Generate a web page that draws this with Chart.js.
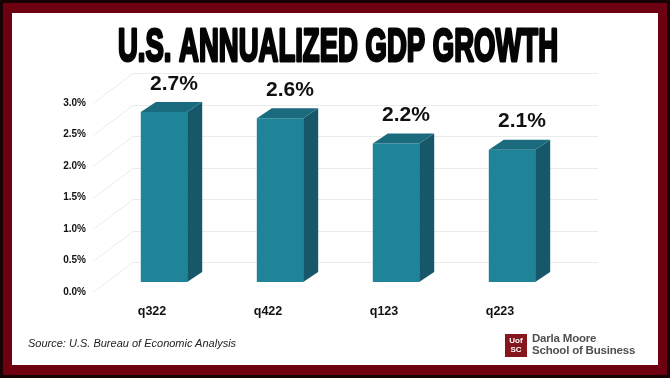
<!DOCTYPE html>
<html>
<head>
<meta charset="utf-8">
<script src="https://cdn.jsdelivr.net/npm/chart.js@4.4.0/dist/chart.umd.min.js"></script>
<style>
  body { margin: 0; background: #fff; }
  #page { position: relative; width: 670px; height: 378px; background: #180304; overflow: hidden; }
  #red { position: absolute; left: 3px; top: 3px; right: 3px; bottom: 3px; background: #6d0011; }
  #white { position: absolute; left: 12px; top: 13px; right: 12px; bottom: 13px; background: #fff; }
  #chart { position: absolute; left: 0; top: 0; }
  .source { position: absolute; left: 28px; top: 336px; font: italic 11px "Liberation Sans", Arial, sans-serif; color: #222; line-height: 14px; }
  .logo-box { position: absolute; left: 505px; top: 334px; width: 22px; height: 23px; background: #86161e;
    color: #fff; font: bold 8px "Liberation Sans Narrow", "Liberation Sans", sans-serif; line-height: 9px; text-align: center; padding-top: 2px; box-sizing: border-box; }
  .logo-text { position: absolute; left: 532px; top: 333px; font: bold 11.5px "Liberation Sans", Arial, sans-serif; color: #505050; line-height: 11.5px; letter-spacing: -0.2px; }
</style>
</head>
<body>
<div id="page">
  <div id="red"></div>
  <div id="white"></div>
  <canvas id="chart" width="670" height="378"></canvas>
  <div class="source">Source: U.S. Bureau of Economic Analysis</div>
  <div class="logo-box">Uof<br>SC</div>
  <div class="logo-text">Darla Moore<br>School of Business</div>
</div>
<script>
  const titleText = "U.S. ANNUALIZED GDP GROWTH";
  const quarters = ["q322", "q422", "q123", "q223"];
  const gdpGrowth = [2.7, 2.6, 2.2, 2.1];
  const yTickStep = 0.5;
  const yMax = 3.0;

  const frontColor = "#1f8498";
  const sideColor = "#16586a";
  const topColor = "#1b6b7e";
  const depthX = 15, depthY = 10;

  Chart.defaults.font.family = '"Liberation Sans", Arial, sans-serif';

  /* ---------------------------------------------------
     back wall + side wall grid lines
  ----------------------------------------------------- */
  const wallGrid = {
    id: "wallGrid",
    beforeDatasetsDraw(chart) {
      const c = chart.ctx, ys = chart.scales.y, a = chart.chartArea;
      c.save();
      c.strokeStyle = "#ebebeb";
      c.lineWidth = 1;
      ys.ticks.forEach(t => {
        const py = Math.round(ys.getPixelForValue(t.value)) + 0.5;
        c.beginPath();
        c.moveTo(a.left - 13, py + 10);
        c.lineTo(a.left + 27, py - 20);
        c.lineTo(a.right + 28, py - 20);
        c.stroke();
      });
      c.restore();
    }
  };

  /* ---------------------------------------------------
     3d faces for the bars and the value labels
  ----------------------------------------------------- */
  const bars3d = {
    id: "bars3d",
    afterDatasetsDraw(chart) {
      const c = chart.ctx;
      const meta = chart.getDatasetMeta(0);
      c.save();
      meta.data.forEach((bar, i) => {
        const l = bar.x - bar.width / 2, r = bar.x + bar.width / 2;
        // side
        c.fillStyle = sideColor;
        c.beginPath();
        c.moveTo(r, bar.y);
        c.lineTo(r + depthX, bar.y - depthY);
        c.lineTo(r + depthX, bar.base - depthY);
        c.lineTo(r, bar.base);
        c.closePath();
        c.fill();
        // top
        c.fillStyle = topColor;
        c.beginPath();
        c.moveTo(l, bar.y);
        c.lineTo(l + depthX, bar.y - depthY);
        c.lineTo(r + depthX, bar.y - depthY);
        c.lineTo(r, bar.y);
        c.closePath();
        c.fill();
        // value
        c.fillStyle = "#111";
        c.font = 'bold 21px "Liberation Sans", Arial, sans-serif';
        c.textAlign = "center";
        c.textBaseline = "middle";
        c.fillText(gdpGrowth[i].toFixed(1) + "%", bar.x + 10, bar.y - 28);
      });
      c.restore();
    }
  };

  /* ---------------------------------------------------
     condensed heading
  ----------------------------------------------------- */
  const heading = {
    id: "heading",
    afterDraw(chart) {
      const c = chart.ctx;
      c.save();
      c.font = 'bold 46px "Liberation Sans Narrow", "Liberation Sans", sans-serif';
      const w = c.measureText(titleText).width;
      c.translate(338, 61);
      c.scale(440 / w, 1);
      c.textAlign = "center";
      c.textBaseline = "alphabetic";
      c.fillStyle = "#050505";
      c.strokeStyle = "#050505";
      c.lineWidth = 3;
      c.lineJoin = "round";
      c.fillText(titleText, 0, 0);
      c.strokeText(titleText, 0, 0);
      c.restore();
    }
  };

  new Chart(document.getElementById("chart"), {
    type: "bar",
    data: {
      labels: quarters,
      datasets: [{
        data: gdpGrowth,
        backgroundColor: frontColor,
        barPercentage: 0.4,
        categoryPercentage: 1
      }]
    },
    options: {
      responsive: false,
      animation: false,
      devicePixelRatio: 1,
      layout: { padding: { left: 0, right: 100, top: 93, bottom: 56 } },
      plugins: { legend: { display: false }, tooltip: { enabled: false } },
      scales: {
        x: {
          grid: { display: false, drawTicks: false },
          border: { display: false },
          ticks: { padding: 22, labelOffset: -12, color: "#111", font: { size: 12.5, weight: "bold" } },
          afterFit(s) { s.height = 40; }
        },
        y: {
          min: 0,
          max: yMax,
          grid: { display: false, drawTicks: false },
          border: { display: false },
          ticks: {
            stepSize: yTickStep,
            padding: 20,
            labelOffset: 10,
            color: "#111",
            font: { size: 10, weight: "bold" },
            callback: v => v.toFixed(1) + "%"
          },
          afterFit(s) { s.width = 106; }
        }
      }
    },
    plugins: [wallGrid, bars3d, heading]
  });
</script>
</body>
</html>
